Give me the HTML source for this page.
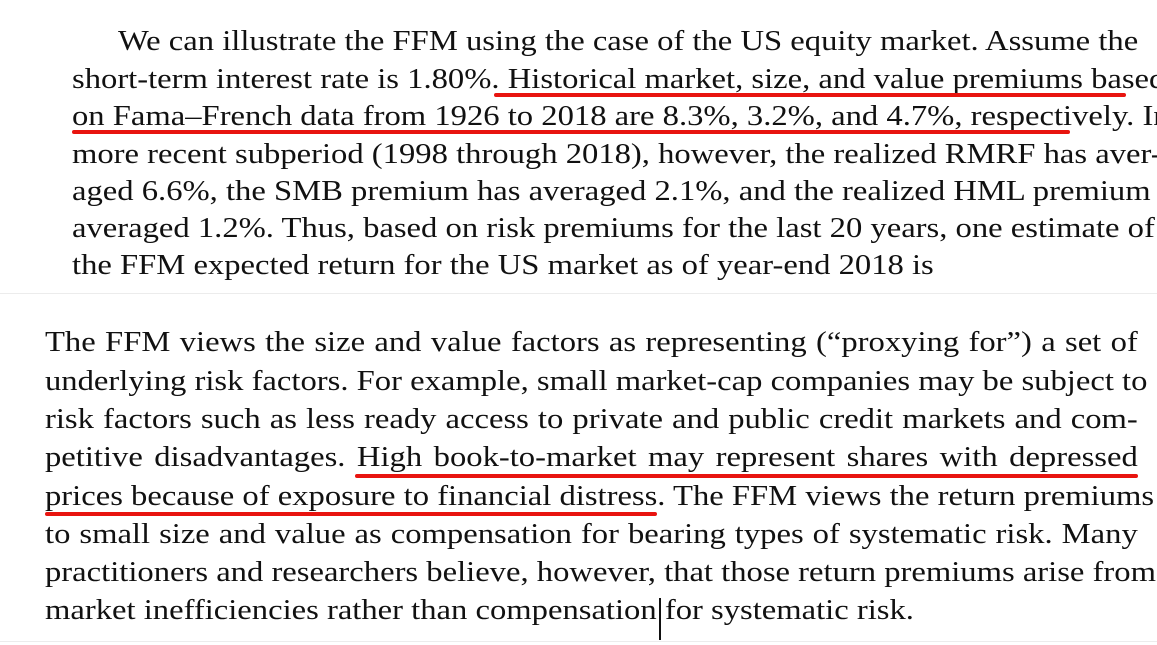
<!DOCTYPE html>
<html><head><meta charset="utf-8">
<style>
html,body{margin:0;padding:0;background:#fff;width:1157px;height:645px;overflow:hidden;position:relative}
.l{position:absolute;height:38px;line-height:38px;font-family:"Liberation Serif",serif;font-size:28px;color:#111;white-space:nowrap;text-align:justify;text-align-last:justify;transform:scaleX(1.165);transform-origin:0 50%}
.b1{left:72px;width:904px}
.b2{left:45px;width:938px}
.last{text-align-last:left}
.u{position:absolute;height:4px;background:#e8140f;border-radius:2px}
.sep{position:absolute;left:0;width:1157px;height:1px;background:#ececec}
</style></head><body>
<div>
<div class="l b1" style="top:23px;left:118px;width:864px">We can illustrate the FFM using the case of the US equity market. Assume the</div>
<div class="l b1" style="top:61px">short-term interest rate is 1.80%. Historical market, size, and value premiums based</div>
<div class="l b1" style="top:98px">on Fama–French data from 1926 to 2018 are 8.3%, 3.2%, and 4.7%, respectively. In a</div>
<div class="l b1" style="top:136px">more recent subperiod (1998 through 2018), however, the realized RMRF has aver-</div>
<div class="l b1" style="top:173px">aged 6.6%, the SMB premium has averaged 2.1%, and the realized HML premium has</div>
<div class="l b1" style="top:210px">averaged 1.2%. Thus, based on risk premiums for the last 20 years, one estimate of</div>
<div class="l b1 last" style="top:247px">the FFM expected return for the US market as of year-end 2018 is</div>
</div>
<div class="u" style="left:494px;top:93px;width:632px"></div>
<div class="u" style="left:72px;top:130px;width:998px"></div>
<div class="sep" style="top:293px"></div>
<div>
<div class="l b2" style="top:324px">The FFM views the size and value factors as representing (“proxying for”) a set of</div>
<div class="l b2" style="top:363px">underlying risk factors. For example, small market-cap companies may be subject to</div>
<div class="l b2" style="top:401px">risk factors such as less ready access to private and public credit markets and com-</div>
<div class="l b2" style="top:439px">petitive disadvantages. High book-to-market may represent shares with depressed</div>
<div class="l b2" style="top:478px">prices because of exposure to financial distress. The FFM views the return premiums</div>
<div class="l b2" style="top:516px">to small size and value as compensation for bearing types of systematic risk. Many</div>
<div class="l b2" style="top:554px">practitioners and researchers believe, however, that those return premiums arise from</div>
<div class="l b2 last" style="top:592px">market inefficiencies rather than compensation for systematic risk.</div>
</div>
<div class="u" style="left:355px;top:474px;width:783px"></div>
<div class="u" style="left:45px;top:512px;width:612px"></div>
<div style="position:absolute;left:659px;top:598px;width:2px;height:42px;background:#111"></div>
<div class="sep" style="top:641px"></div>
</body></html>
